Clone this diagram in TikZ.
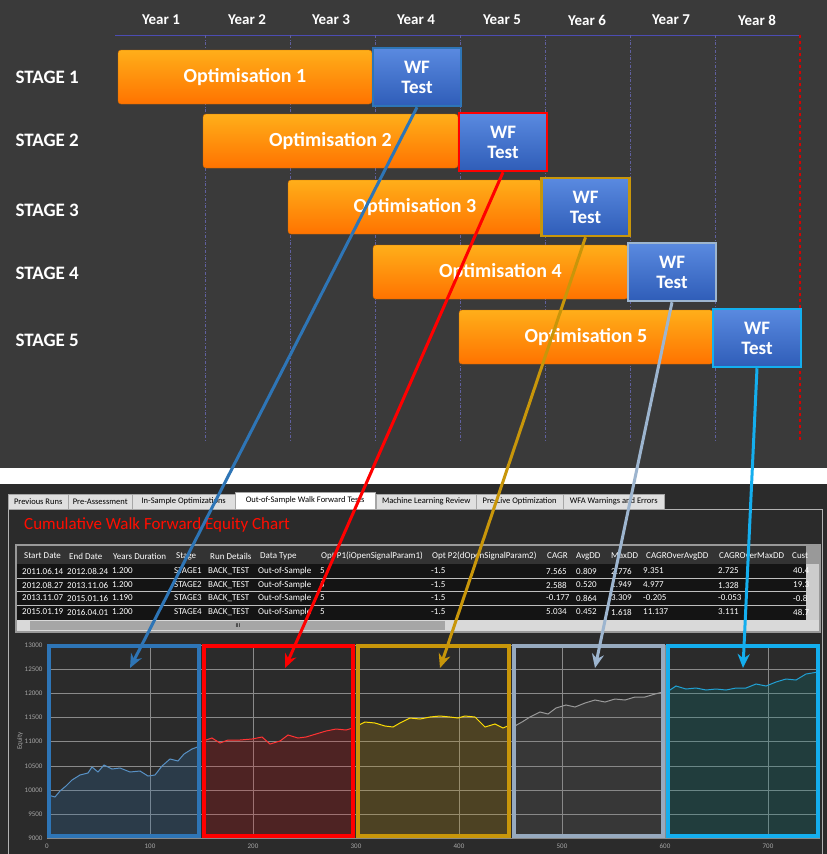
\documentclass[tikz,border=0pt]{standalone}
\usepackage{fontspec}
\setmainfont{Carlito}
\usetikzlibrary{arrows.meta}
\definecolor{bgtop}{HTML}{3A3A3A}
\definecolor{bgbot}{HTML}{2B2B2B}
\definecolor{cblue}{HTML}{2E75B6}
\definecolor{cred}{HTML}{FF0000}
\definecolor{cgold}{HTML}{C8960A}
\definecolor{cgray}{HTML}{9DB5CF}
\definecolor{ccyan}{HTML}{14AEEE}
\definecolor{gridc}{HTML}{8A8A8A}
\definecolor{wftop}{HTML}{5A8AE0}
\definecolor{wfbot}{HTML}{2F5DB8}
\tikzset{
 yr/.style={text=white,font=\bfseries\fontsize{15}{15}\selectfont},
 stg/.style={text=white,font=\bfseries\fontsize{19}{19}\selectfont,anchor=west},
 optbar/.style={rounded corners=3pt,top color=orange!70!yellow!90!white,bottom color=orange!90!red,draw=orange!80!black,minimum height=54pt,text=white,font=\bfseries\fontsize{20}{20}\selectfont,inner sep=0pt},
 wfbox/.style={line width=2.5pt,top color=wftop,bottom color=wfbot,minimum width=88pt,minimum height=58pt,text=white,font=\bfseries\fontsize{19}{20}\selectfont,align=center,inner sep=0pt},
 conn/.style={line width=3pt,-{Stealth[length=14pt,width=12pt]}},
 tab/.style={draw=gray!70,fill=gray!25,text=black,font=\fontsize{8.5}{8.5}\selectfont,minimum height=15pt,inner sep=1pt,anchor=south west},
 cell/.style={text=white,font=\fontsize{9}{9}\selectfont,anchor=west,inner sep=0pt},
 ax/.style={text=gray!70,font=\fontsize{7}{7}\selectfont},
 pan/.style={line width=3.5pt}
}
\begin{document}
\begin{tikzpicture}[x=1pt,y=-1pt]
\useasboundingbox (0,0) rectangle (827,854);
\fill[bgtop] (0,0) rectangle (827,468);
\fill[white] (0,468) rectangle (827,484);
\fill[bgbot] (0,484) rectangle (827,854);
% years
\foreach \x/\n in {161/1,247/2,331/3,416/4,502/5,587/6,671/7,757/8}{\node[yr] (yr\n) at (\x,20) {Year \n};}
\draw[gray!60!blue,line width=0.6pt] (115,35) -- (800,35);
\foreach \x in {205,290,375,460,545,630,715}{\draw[blue!25!gray,dash dot,line width=0.5pt] (\x,35) -- (\x,440);}
\draw[red!85!black,dashed,line width=1.2pt] (800,35) -- (800,440);
% stages
\foreach \y/\n in {77/1,140/2,210/3,273/4,340/5}{\node[stg] (st\n) at (12,\y) {STAGE \n};}
\node[optbar,minimum width=254pt] (o1) at (245,77) {Optimisation 1};
\node[optbar,minimum width=255pt] (o2) at (330.5,141) {Optimisation 2};
\node[optbar,minimum width=254pt] (o3) at (415,207) {Optimisation 3};
\node[optbar,minimum width=255pt] (o4) at (500.5,272) {Optimisation 4};
\node[optbar,minimum width=254pt] (o5) at (586,337) {Optimisation 5};
\node[wfbox,draw=cblue] (w1) at (417,77) {WF\\Test};
\node[wfbox,draw=cred] (w2) at (503,142) {WF\\Test};
\node[wfbox,draw=cgold] (w3) at (585.5,207) {WF\\Test};
\node[wfbox,draw=cgray] (w4) at (672,272) {WF\\Test};
\node[wfbox,draw=ccyan] (w5) at (757,338) {WF\\Test};
% bottom panel
\draw[gray!60] (8,509) rectangle (822,854);
\foreach \a/\b/\t in {8/68/Previous Runs,68/132/Pre-Assessment,132/235/In-Sample Optimizations,376/476/Machine Learning Review,476/563/Pre-Live Optimization,563/664/WFA Warnings and Errors}{
 \node[tab,minimum width=\b-\a] at (\a,509) {\t};}
\node[tab,fill=white,minimum width=140,minimum height=17pt] (acttab) at (235,509) {Out-of-Sample Walk Forward Tests};
\node[anchor=west,text=red!90!orange,font=\fontsize{17}{17}\selectfont,inner sep=0pt] (title) at (24,525) {Cumulative Walk Forward Equity Chart};
% table
\fill[gray!80] (15,544) rectangle (821,633);
\fill[black!92] (17,546) rectangle (806,620);
\fill[black!80] (17,546) rectangle (806,564);
\foreach \y in {578,591,605}{\draw[gray!50,line width=0.4pt] (17,\y) -- (806,\y);}
\fill[gray!30] (17,620) rectangle (819,631);
\fill[gray!70] (30,621) rectangle (445,630);
\node[font=\fontsize{6}{6}\selectfont,text=black] at (238,626) {III};
\fill[gray!40] (806,564) rectangle (819,620);
\foreach \x/\t in {24/Start Date,69/End Date,113/Years Duration,176/Stage,210/Run Details,260/Data Type,321/Opt P1(iOpenSignalParam1),432/Opt P2(dOpenSignalParam2),547/CAGR,576/AvgDD,611/MaxDD,646/CAGROverAvgDD,719/CAGROverMaxDD,792/Cust}{\node[cell] at (\x,556) {\t};}
\foreach \y/\a/\b/\c/\s/\d/\e/\f/\g/\h/\i in {571/2011.06.14/2012.08.24/1.200/1/7.565/0.809/2.776/9.351/2.725/40.4,585/2012.08.27/2013.11.06/1.200/2/2.588/0.520/1.949/4.977/1.328/19.3,598/2013.11.07/2015.01.16/1.190/3/-0.177/0.864/3.309/-0.205/-0.053/-0.8,612/2015.01.19/2016.04.01/1.200/4/5.034/0.452/1.618/11.137/3.111/48.7}{
 \node[cell] at (22,\y) {\a}; \node[cell] at (67,\y) {\b}; \node[cell] at (112,\y) {\c};
 \node[cell] at (174,\y) {STAGE\s}; \node[cell] at (208,\y) {BACK\_TEST}; \node[cell] at (258,\y) {Out-of-Sample};
 \node[cell] at (320,\y) {5}; \node[cell] at (431,\y) {-1.5}; \node[cell] at (546,\y) {\d};
 \node[cell] at (576,\y) {\e}; \node[cell] at (611,\y) {\f}; \node[cell] at (643,\y) {\g};
 \node[cell] at (718,\y) {\h}; \node[cell] at (793,\y) {\i};}
% chart
\foreach \v/\y in {13000/645,12500/669,12000/693,11500/717,11000/741,10500/766,10000/790,9500/814,9000/838}{
 \draw[gridc,line width=0.6pt] (47,\y) -- (820,\y); \node[ax,anchor=east] at (46,\y) {\v};}
\foreach \v/\x in {0/47,100/150,200/253,300/356,400/459,500/562,600/665,700/768}{
 \draw[gridc,line width=0.6pt] (\x,645) -- (\x,838); \node[ax,anchor=north] at (\x,840) {\v};}
\node[ax,rotate=90] at (20,741) {Equity};
% curves
\fill[cblue,fill opacity=0.22] (48,838) -- (48,795) -- (55,797) -- (60,791) -- (66,786) -- (72,780) -- (80,775) -- (88,773) -- (92,767) -- (98,772) -- (104,765) -- (112,769) -- (120,768) -- (130,772) -- (140,771) -- (148,776) -- (155,775) -- (162,766) -- (170,759) -- (178,761) -- (184,754) -- (192,749) -- (200,746) -- (200,838) -- cycle;
\draw[cblue!80!white,line width=1pt] (48,795) -- (55,797) -- (60,791) -- (66,786) -- (72,780) -- (80,775) -- (88,773) -- (92,767) -- (98,772) -- (104,765) -- (112,769) -- (120,768) -- (130,772) -- (140,771) -- (148,776) -- (155,775) -- (162,766) -- (170,759) -- (178,761) -- (184,754) -- (192,749) -- (200,746);
\fill[cred,fill opacity=0.17] (203,838) -- (203,741) -- (212,738) -- (220,743) -- (228,740) -- (240,740) -- (252,739) -- (262,737) -- (270,744) -- (280,741) -- (288,735) -- (298,738) -- (306,737) -- (316,734) -- (326,731) -- (336,729) -- (346,730) -- (353,728) -- (353,838) -- cycle;
\draw[red!80!white,line width=1pt] (203,741) -- (212,738) -- (220,743) -- (228,740) -- (240,740) -- (252,739) -- (262,737) -- (270,744) -- (280,741) -- (288,735) -- (298,738) -- (306,737) -- (316,734) -- (326,731) -- (336,729) -- (346,730) -- (353,728);
\fill[cgold,fill opacity=0.22] (357,838) -- (357,726) -- (365,722) -- (375,723) -- (385,726) -- (393,727) -- (400,723) -- (410,718) -- (420,719) -- (430,717) -- (440,716) -- (450,717) -- (458,718) -- (465,716) -- (475,717) -- (485,727) -- (495,724) -- (503,728) -- (510,725) -- (510,838) -- cycle;
\draw[yellow!80!orange,line width=1pt] (357,726) -- (365,722) -- (375,723) -- (385,726) -- (393,727) -- (400,723) -- (410,718) -- (420,719) -- (430,717) -- (440,716) -- (450,717) -- (458,718) -- (465,716) -- (475,717) -- (485,727) -- (495,724) -- (503,728) -- (510,725);
\fill[gray,fill opacity=0.15] (513,838) -- (513,727) -- (522,722) -- (530,717) -- (540,712) -- (548,714) -- (556,708) -- (566,705) -- (575,707) -- (585,703) -- (595,700) -- (605,702) -- (615,699) -- (625,700) -- (635,697) -- (645,697) -- (655,694) -- (663,692) -- (663,838) -- cycle;
\draw[gray!80,line width=1pt] (513,727) -- (522,722) -- (530,717) -- (540,712) -- (548,714) -- (556,708) -- (566,705) -- (575,707) -- (585,703) -- (595,700) -- (605,702) -- (615,699) -- (625,700) -- (635,697) -- (645,697) -- (655,694) -- (663,692);
\fill[teal,fill opacity=0.22] (667,838) -- (667,692) -- (676,686) -- (686,689) -- (696,688) -- (706,690) -- (716,689) -- (726,690) -- (736,688) -- (746,688) -- (756,684) -- (766,686) -- (776,682) -- (786,679) -- (796,680) -- (806,674) -- (812,673) -- (818,672) -- (818,838) -- cycle;
\draw[cyan!70!teal,line width=1pt] (667,692) -- (676,686) -- (686,689) -- (696,688) -- (706,690) -- (716,689) -- (726,690) -- (736,688) -- (746,688) -- (756,684) -- (766,686) -- (776,682) -- (786,679) -- (796,680) -- (806,674) -- (812,673) -- (818,672);
% panels
\draw[pan,cblue] (49,646) rectangle (199,836);
\draw[pan,cred] (204,646) rectangle (353,836);
\draw[pan,cgold] (358,646) rectangle (509,836);
\draw[pan,cgray!80!gray] (514,646) rectangle (663,836);
\draw[pan,ccyan] (668,646) rectangle (818,836);
% connectors
\coordinate (p1) at (130,668); \coordinate (p2) at (285,668); \coordinate (p3) at (440,668); \coordinate (p4) at (595,668); \coordinate (p5) at (743,668);
\draw[conn,cblue] (w1.south) -- (p1);
\draw[conn,cred] (w2.south) -- (p2);
\draw[conn,cgold] (w3.south) -- (p3);
\draw[conn,cgray] (w4.south) -- (p4);
\draw[conn,ccyan] (w5.south) -- (p5);
\end{tikzpicture}
\end{document}
